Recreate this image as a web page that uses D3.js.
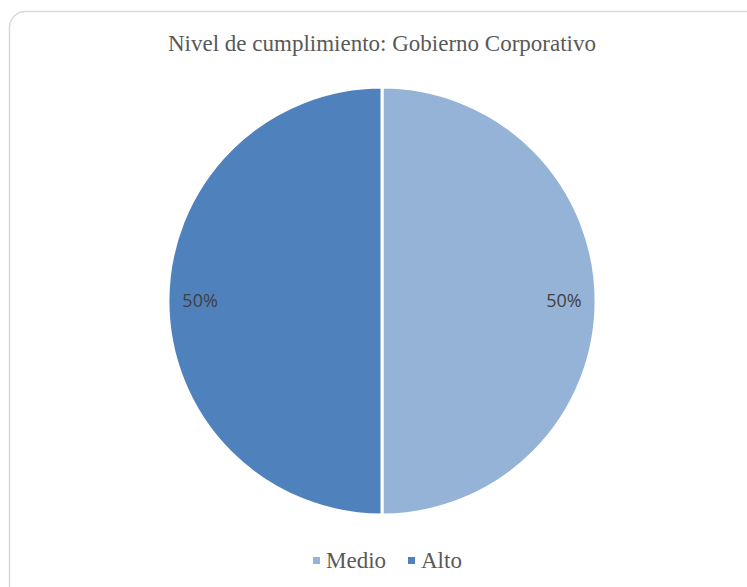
<!DOCTYPE html>
<html>
<head>
<meta charset="utf-8">
<script src="https://cdn.jsdelivr.net/npm/d3@7"></script>
<style>
    body { margin: 0; background: #fff; }
</style>
</head>
<body>
<div id="chart"></div>
<script>
const categories = ["Medio", "Alto"],
    values = [50, 50],
    colors = ["#95B3D7", "#4F81BD"];
const title = "Nivel de cumplimiento: Gobierno Corporativo";

const width = 747,
    height = 587,
    cx = 382,
    cy = 301,
    radius = 214;

const svg = d3
    .select("#chart")
    .append("svg")
    .attr("width", width)
    .attr("height", height);

// chart area border, cut at right and bottom like the screenshot
svg.append("rect")
    .attr("x", 9.5)
    .attr("y", 11.5)
    .attr("width", 760)
    .attr("height", 600)
    .attr("rx", 16)
    .attr("fill", "#fff")
    .attr("stroke", "#d9d9d9")
    .attr("stroke-width", 1.5);

svg.append("text")
    .attr("x", cx)
    .attr("y", 51)
    .attr("text-anchor", "middle")
    .style("font-family", "'Liberation Serif', 'Times New Roman', serif")
    .style("font-size", "23px")
    .style("fill", "#595959")
    .text(title);

const data = categories.map((c, i) => ({ name: c, value: values[i], color: colors[i] }));

const pie = d3.pie().sort(null).value((d) => d.value);
const arc = d3.arc().innerRadius(0).outerRadius(radius);
const labelArc = d3.arc().innerRadius(radius * 0.85).outerRadius(radius * 0.85);
const total = d3.sum(values);

const g = svg.append("g").attr("transform", `translate(${cx},${cy})`);

g.selectAll("path")
    .data(pie(data))
    .join("path")
    .attr("d", arc)
    .attr("fill", (d) => d.data.color)
    .attr("stroke", "#fff")
    .attr("stroke-width", 3);

g.selectAll("text")
    .data(pie(data))
    .join("text")
    .attr("transform", (d) => `translate(${labelArc.centroid(d)})`)
    .attr("text-anchor", "middle")
    .attr("dy", "0.35em")
    .style("font-family", "'Open Sans', 'Noto Sans', sans-serif")
    .style("font-size", "18px")
    .style("fill", "#404040")
    .text((d) => Math.round((d.data.value / total) * 100) + "%");

// legend
const legendX = [313, 408];
const legend = svg
    .append("g")
    .selectAll("g")
    .data(data)
    .join("g")
    .attr("transform", (d, i) => `translate(${legendX[i]},557)`);

legend.append("rect")
    .attr("width", 7)
    .attr("height", 7)
    .attr("fill", (d) => d.color);

legend.append("text")
    .attr("x", 13)
    .attr("y", 11)
    .style("font-family", "'Liberation Serif', 'Times New Roman', serif")
    .style("font-size", "23px")
    .style("fill", "#595959")
    .text((d) => d.name);
</script>
</body>
</html>
